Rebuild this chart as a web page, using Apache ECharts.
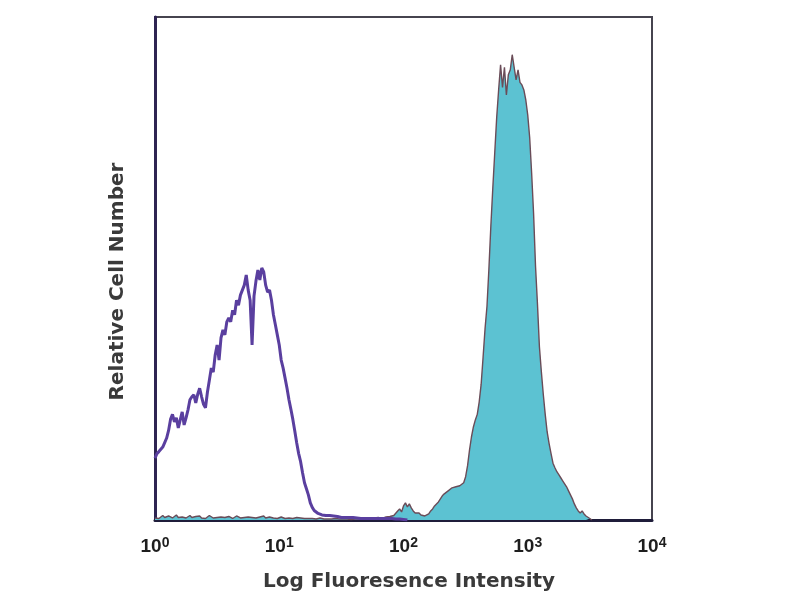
<!DOCTYPE html>
<html><head><meta charset="utf-8">
<script src="https://cdn.jsdelivr.net/npm/echarts@6/dist/echarts.min.js"></script>
<style>html,body{margin:0;padding:0;background:#fff}#c{width:800px;height:600px}</style>
</head><body><div id="c"></div>
<script>
// 256 log channels spanning 10^0 .. 10^4 (64 channels per decade)
const channelTicks = [0, 64, 128, 192, 256];
const tickExponents = ['0', '1', '2', '3', '4'];
const xTitle = 'Log Fluoresence Intensity';
const yTitle = 'Relative Cell Number';

// control histogram (unfilled, purple), channels 0..130, % of full scale
const controlStart = 0;
const controlCounts = [
 12.3,13.2,13.6,13.9,14.5,15.4,16.3,17.8,20.0,21.0,
 19.5,20.3,18.3,19.9,21.5,18.9,20.3,21.9,23.9,24.5,
 24.9,23.3,25.0,26.2,24.5,23.0,22.3,25.4,27.8,30.2,
 29.4,32.8,34.8,31.8,36.2,37.8,36.8,39.4,40.2,39.4,
 41.7,40.8,43.7,42.7,44.7,45.7,46.7,48.7,45.7,43.7,
 34.8,44.5,47.5,49.7,47.7,50.1,49.3,46.7,45.3,45.7,
 43.7,40.8,38.8,36.8,34.8,31.8,30.2,28.2,26.2,23.9,
 22.0,20.0,17.7,15.3,13.2,11.6,9.4,7.4,6.2,5.0,
 3.4,2.5,1.9,1.6,1.3,1.2,1.0,1.1,0.9,0.8,
 0.9,0.7,0.8,0.6,0.7,0.6,0.5,0.6,0.5,0.4,
 0.5,0.4,0.5,0.3,0.4,0.5,0.3,0.4,0.3,0.4,
 0.3,0.4,0.3,0.2,0.3,0.4,0.3,0.2,0.3,0.2,
 0.3,0.2,0.3,0.2,0.2,0.3,0.2,0.2,0.1,0.1,0.0
];

// stained histogram (filled, cyan), channels 0..225
const stainedStart = 0;
const stainedCounts = [
 0.4,0.7,0.3,0.6,0.9,0.5,0.3,0.8,0.6,0.4,
 0.7,1.0,0.5,0.3,0.6,0.8,0.4,0.6,0.9,0.5,
 0.3,0.7,0.5,0.8,0.4,0.6,0.3,0.5,0.9,0.6,
 0.4,0.7,0.5,0.3,0.6,0.8,0.5,0.4,0.7,0.6,
 0.3,0.5,0.8,0.6,0.4,0.7,0.5,0.3,0.6,0.4,
 0.5,0.7,0.4,0.3,0.6,0.5,0.8,0.4,0.3,0.6,
 0.5,0.4,0.7,0.3,0.5,0.6,0.4,0.3,0.5,0.4,
 0.6,0.3,0.4,0.5,0.3,0.4,0.6,0.3,0.4,0.3,
 0.5,0.3,0.4,0.2,0.3,0.4,0.3,0.2,0.3,0.2,
 0.3,0.2,0.2,0.3,0.2,0.2,0.3,0.2,0.1,0.2,
 0.2,0.1,0.2,0.2,0.1,0.2,0.1,0.2,0.3,0.2,
 0.3,0.2,0.3,0.4,0.3,0.5,0.4,0.3,0.4,0.6,
 0.8,0.7,0.6,0.9,1.2,1.8,2.2,1.6,2.8,3.4,
 2.6,3.2,2.4,1.8,1.4,1.6,1.4,1.0,1.2,0.8,
 0.6,1.2,1.8,2.2,2.8,3.2,3.6,4.2,4.8,5.2,
 5.4,5.8,6.0,6.4,6.2,6.6,6.4,6.8,6.6,7.4,
 8.6,10.8,13.9,16.5,18.5,19.9,21.0,23.5,27.0,32.4,
 38.0,42.5,50.0,58.5,66.0,73.0,80.0,85.5,90.5,86.0,
 90.0,84.5,88.5,89.5,92.5,90.0,87.5,89.5,87.0,86.5,
 85.5,83.5,80.5,76.0,69.0,61.0,50.5,43.0,34.5,29.5,
 25.0,21.0,17.5,15.2,13.2,11.3,10.4,9.6,9.0,8.4,
 7.8,7.2,6.6,5.8,5.0,4.2,3.2,2.4,1.8,1.4,
 1.8,1.2,0.8,0.6,0.3,0.0
];

const toPairs = (start, arr) => arr.map((v, i) => [start + i, v]);

const chart = echarts.init(document.getElementById('c'));
chart.setOption({
  animation: false,
  backgroundColor: '#fff',
  grid: { left: 155, right: 148, top: 17, bottom: 80, show: true, borderColor: '#46444f', borderWidth: 2, backgroundColor: 'transparent' },
  xAxis: {
    type: 'value', min: 0, max: 256, interval: 64,
    name: xTitle, nameLocation: 'middle', nameGap: 52,
    nameTextStyle: { fontFamily: 'DejaVu Sans', fontSize: 20, fontWeight: 'bold', color: '#3a3a3a', padding: [0, 0, 0, 11] },
    axisLine: { show: true, lineStyle: { color: '#1f1d3a', width: 3 } },
    axisTick: { show: false },
    splitLine: { show: false },
    axisLabel: {
      margin: 16,
      formatter: v => { const i = channelTicks.indexOf(v); return i < 0 ? '' : '{b|10}{s|' + tickExponents[i] + '}'; },
      rich: {
        b: { fontFamily: 'Liberation Sans', fontSize: 19, fontWeight: 'bold', color: '#1e1e1e', lineHeight: 22 },
        s: { fontFamily: 'Liberation Sans', fontSize: 14, fontWeight: 'bold', color: '#1e1e1e', verticalAlign: 'top', lineHeight: 14 }
      }
    }
  },
  yAxis: {
    type: 'value', min: 0, max: 100,
    name: yTitle, nameLocation: 'middle', nameGap: 27,
    nameTextStyle: { fontFamily: 'DejaVu Sans', fontSize: 20, fontWeight: 'bold', color: '#3a3a3a', padding: [0, 26, 0, 0] },
    axisLine: { show: true, lineStyle: { color: '#2e2452', width: 3 } },
    axisTick: { show: false }, axisLabel: { show: false }, splitLine: { show: false }
  },
  series: [
    {
      type: 'line', data: toPairs(stainedStart, stainedCounts), showSymbol: false,
      lineStyle: { color: '#6a4c58', width: 1.4 },
      areaStyle: { color: '#5cc2d2', opacity: 1 },
      z: 2
    },
    {
      type: 'line', data: toPairs(controlStart, controlCounts), showSymbol: false,
      lineStyle: { color: '#5a3f9f', width: 3 },
      z: 3
    }
  ]
});
</script></body></html>
